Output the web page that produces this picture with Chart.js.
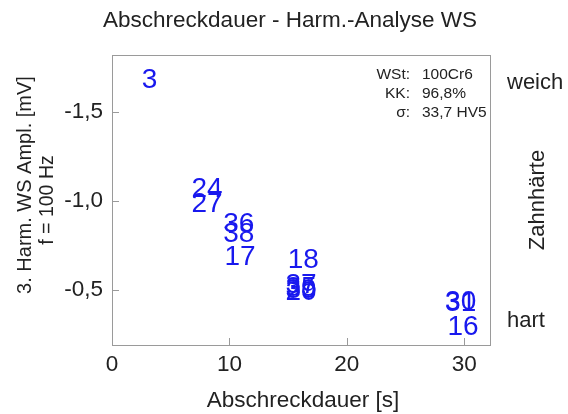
<!DOCTYPE html>
<html>
<head>
<meta charset="utf-8">
<script src="https://cdn.jsdelivr.net/npm/chart.js@4.4.1/dist/chart.umd.min.js"></script>
<style>
  html, body { margin: 0; padding: 0; background: #ffffff; }
  #wrap { width: 568px; height: 414px; }
</style>
</head>
<body>
<div id="wrap"><canvas id="chart" width="568" height="414"></canvas></div>
<script>
// Sample numbers, quench duration [s] and 3rd harmonic amplitude [mV]
const sampleIds   = ['3', '24', '27', '36', '38', '17', '18', '37', '35', '39', '20', '30', '31', '16'];
const quenchTime  = [3.2, 8.1, 8.1, 10.8, 10.8, 10.9, 16.3, 16.1, 16.1, 16.1, 16.1, 29.7, 29.7, 29.9];
const amplitude   = [-1.693, -1.076, -0.992, -0.882, -0.823, -0.697, -0.678, -0.539, -0.522, -0.511, -0.500, -0.445, -0.436, -0.303];

const xTickValues = [0, 10, 20, 30];
const yTickValues = [-1.5, -1.0, -0.5];

const chartTitle  = 'Abschreckdauer - Harm.-Analyse WS';
const xTitle      = 'Abschreckdauer [s]';
const yTitle      = '3. Harm. WS Ampl. [mV]';
const ySubTitle   = 'f = 100 Hz';
const infoLabels  = ['WSt:', 'KK:', 'σ:'];
const infoValues  = ['100Cr6', '96,8%', '33,7 HV5'];
const hardnessTop = 'weich';
const hardnessMid = 'Zahnhärte';
const hardnessBot = 'hart';

const FONT = "'Liberation Sans', Arial, Helvetica, sans-serif";
const TEXT = '#222222';
const FRAME = '#9a9a9a';
const MARK = 'rgb(24,24,238)';

const points = quenchTime.map((t, i) => ({ x: t, y: amplitude[i] }));

// Draws the frame, inward tick marks, number markers and all free text
const decorPlugin = {
  id: 'decor',
  afterDatasetsDraw(chart) {
    const ctx = chart.ctx;
    const a = chart.chartArea;
    const xs = chart.scales.x, ys = chart.scales.y;
    ctx.save();

    // frame
    ctx.strokeStyle = FRAME;
    ctx.lineWidth = 1;
    ctx.strokeRect(Math.round(a.left) + 0.5, Math.round(a.top) + 0.5,
                   Math.round(a.right - a.left), Math.round(a.bottom - a.top));

    // inward tick marks
    ctx.beginPath();
    xTickValues.forEach(v => {
      const px = Math.round(xs.getPixelForValue(v)) + 0.5;
      if (px <= a.left + 1 || px >= a.right - 1) return;
      ctx.moveTo(px, a.bottom);
      ctx.lineTo(px, a.bottom - 7);
    });
    yTickValues.forEach(v => {
      const py = Math.round(ys.getPixelForValue(v)) + 0.5;
      ctx.moveTo(a.left, py);
      ctx.lineTo(a.left + 7, py);
    });
    ctx.stroke();

    // sample numbers as markers
    const meta = chart.getDatasetMeta(0);
    const size = 28;
    ctx.fillStyle = MARK;
    ctx.font = `${size}px ${FONT}`;
    ctx.textAlign = 'center';
    ctx.textBaseline = 'alphabetic';
    meta.data.forEach((el, i) => {
      ctx.fillText(sampleIds[i], el.x, el.y + 0.358 * size);
    });

    // titles
    ctx.fillStyle = TEXT;
    ctx.font = `22.5px ${FONT}`;
    ctx.textAlign = 'center';
    ctx.fillText(chartTitle, 290, 26.7);
    ctx.fillText(xTitle, 303, 407);

    // y axis titles (rotated)
    ctx.save();
    ctx.translate(30.5, 185);
    ctx.rotate(-Math.PI / 2);
    ctx.font = `20px ${FONT}`;
    ctx.fillText(yTitle, 0, 0);
    ctx.restore();
    ctx.save();
    ctx.translate(53, 200);
    ctx.rotate(-Math.PI / 2);
    ctx.font = `19.5px ${FONT}`;
    ctx.fillText(ySubTitle, 0, 0);
    ctx.restore();

    // material info block
    ctx.font = `15.5px ${FONT}`;
    const rows = [78.5, 98, 117];
    infoLabels.forEach((lab, i) => {
      ctx.textAlign = 'right';
      ctx.fillText(lab, 410, rows[i]);
      ctx.textAlign = 'left';
      ctx.fillText(infoValues[i], 422, rows[i]);
    });

    // hardness scale on the right
    ctx.font = `22px ${FONT}`;
    ctx.textAlign = 'left';
    ctx.fillText(hardnessTop, 507, 89);
    ctx.fillText(hardnessBot, 507, 327);
    ctx.save();
    ctx.translate(544, 200);
    ctx.rotate(-Math.PI / 2);
    ctx.textAlign = 'center';
    ctx.fillText(hardnessMid, 0, 0);
    ctx.restore();

    ctx.restore();
  }
};

new Chart(document.getElementById('chart'), {
  type: 'scatter',
  data: {
    datasets: [{
      data: points,
      pointRadius: 0,
      pointHoverRadius: 0,
      showLine: false
    }]
  },
  options: {
    responsive: false,
    animation: false,
    devicePixelRatio: 1,
    layout: { padding: { top: 55, right: 78, left: 0, bottom: 0 } },
    plugins: {
      legend: { display: false },
      tooltip: { enabled: false },
      title: { display: false }
    },
    scales: {
      x: {
        type: 'linear',
        min: 0,
        max: 32.2,
        afterBuildTicks: s => { s.ticks = xTickValues.map(v => ({ value: v })); },
        afterFit: s => { s.height = 69; },
        grid: { display: false, drawTicks: false },
        border: { display: false },
        ticks: {
          padding: 6,
          color: TEXT,
          font: { family: FONT, size: 22.5 },
          maxRotation: 0,
          callback: v => String(v)
        }
      },
      y: {
        type: 'linear',
        reverse: true,
        min: -1.82,
        max: -0.19,
        afterBuildTicks: s => { s.ticks = yTickValues.map(v => ({ value: v })); },
        afterFit: s => { s.width = 112; },
        grid: { display: false, drawTicks: false },
        border: { display: false },
        ticks: {
          padding: 9,
          color: TEXT,
          font: { family: FONT, size: 22.5 },
          callback: v => v.toFixed(1).replace('.', ',')
        }
      }
    }
  },
  plugins: [decorPlugin]
});
</script>
</body>
</html>
